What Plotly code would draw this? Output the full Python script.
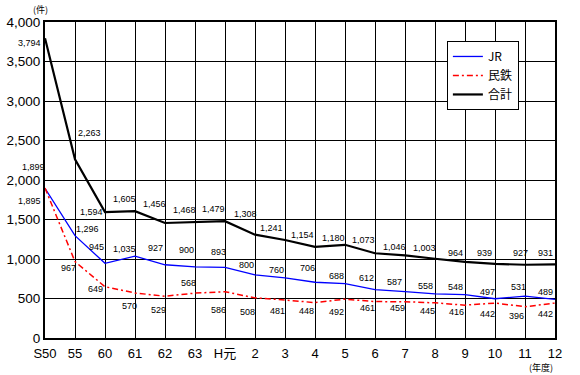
import plotly.graph_objects as go

categories = ["S50", "55", "60", "61", "62", "63", "H元", "2", "3", "4", "5", "6", "7", "8", "9", "10", "11", "12"]
jr = [1895, 1296, 945, 1035, 927, 900, 893, 800, 760, 706, 688, 612, 587, 558, 548, 497, 531, 489]
mintetsu = [1899, 967, 649, 570, 529, 568, 586, 508, 481, 448, 492, 461, 459, 445, 416, 442, 396, 442]
total = [3794, 2263, 1594, 1605, 1456, 1468, 1479, 1308, 1241, 1154, 1180, 1073, 1046, 1003, 964, 939, 927, 931]
y_ticks = [0, 500, 1000, 1500, 2000, 2500, 3000, 3500, 4000]

# label offsets (pixels) relative to each point
off_total = [(-16, -5), (14, 26), (-14, 0), (-11, 12), (-11, 19), (-11, 12), (-12, 12), (-10, 21), (-14, 12),
             (-13, 12), (-12, 7), (-12, 13), (-11, 8), (-11, 11), (-10, 9), (-11, 11), (-5, 12), (-10, 11)]
off_jr = [(-16, -13), (12, 7), (-9, 16), (-11, 7), (-10, 17), (-9, 17), (-7, 15), (-9, 10), (-9, 8),
          (-8, 14), (-9, 8), (-9, 12), (-11, 10), (-10, 8), (-10, 8), (-8, 7), (-7, 9), (-10, 7)]
off_min = [(-12, 21), (-7, -6), (-10, -2), (-6, -13), (-7, -14), (-7, 10), (-7, -18), (-8, -14), (-8, -11),
           (-9, -8), (-9, -13), (-8, -6), (-8, -6), (-8, -8), (-9, -7), (-8, -11), (-9, -9), (-10, -11)]

FONT = "Liberation Sans, Arial, Noto Sans CJK JP"
lab_font = dict(size=9, color="black", family=FONT)

fig = go.Figure()
fig.add_trace(go.Scatter(x=categories, y=jr, name="JR", mode="lines",
                         line=dict(color="#0000ff", width=1.3)))
fig.add_trace(go.Scatter(x=categories, y=mintetsu, name="民鉄", mode="lines",
                         line=dict(color="#ff0000", width=1.5, dash="6px,3px,2px,3px")))
fig.add_trace(go.Scatter(x=categories, y=total, name="合計", mode="lines",
                         line=dict(color="black", width=2.2)))

annotations = []
for series, offs in ((total, off_total), (jr, off_jr), (mintetsu, off_min)):
    for i, (v, (dx, dy)) in enumerate(zip(series, offs)):
        annotations.append(dict(x=i, y=v, xref="x", yref="y", text=f"{v:,}", showarrow=False,
                                xanchor="center", yanchor="middle", xshift=dx, yshift=dy,
                                font=lab_font))

annotations += [
    dict(text="(件)", x=-0.008, y=1, xref="paper", yref="paper", xanchor="center",
         yanchor="middle", showarrow=False, font=dict(size=9, family="Noto Sans CJK JP", color="black"), yshift=13),
    dict(text="(年度)", x=0.973, y=0, xref="paper", yref="paper", xanchor="center",
         yanchor="middle", showarrow=False, font=dict(size=9, family="Noto Sans CJK JP", color="black"), yshift=-29),
]

fig.update_layout(
    width=580, height=375,
    margin=dict(l=45, r=25, t=22, b=37, pad=0),
    paper_bgcolor="white", plot_bgcolor="white",
    font=dict(family=FONT, size=12, color="black"),
    showlegend=True,
    legend=dict(x=0.788, y=0.94, xanchor="left", yanchor="top",
                bordercolor="black", borderwidth=1, bgcolor="white",
                font=dict(size=12, family="Noto Sans CJK JP", color="black"),
                itemwidth=30, tracegroupgap=0),
    xaxis=dict(type="category", range=[0, 17], showgrid=True, gridcolor="black", gridwidth=1,
               showline=True, linecolor="black", linewidth=2, mirror=True, automargin=False,
               ticks="", ticklabelstandoff=2, tickfont=dict(size=13, family=FONT), zeroline=False),
    yaxis=dict(range=[0, 4000], tickvals=y_ticks, tickformat=",", showgrid=True,
               gridcolor="black", gridwidth=1, showline=True, linecolor="black", automargin=False,
               linewidth=2, mirror=True, ticks="", tickfont=dict(size=13.5, family=FONT),
               zeroline=False),
    annotations=annotations,
)

fig.write_html("out.html", config={"displayModeBar": False},
               post_script="document.body.style.margin='0';")
